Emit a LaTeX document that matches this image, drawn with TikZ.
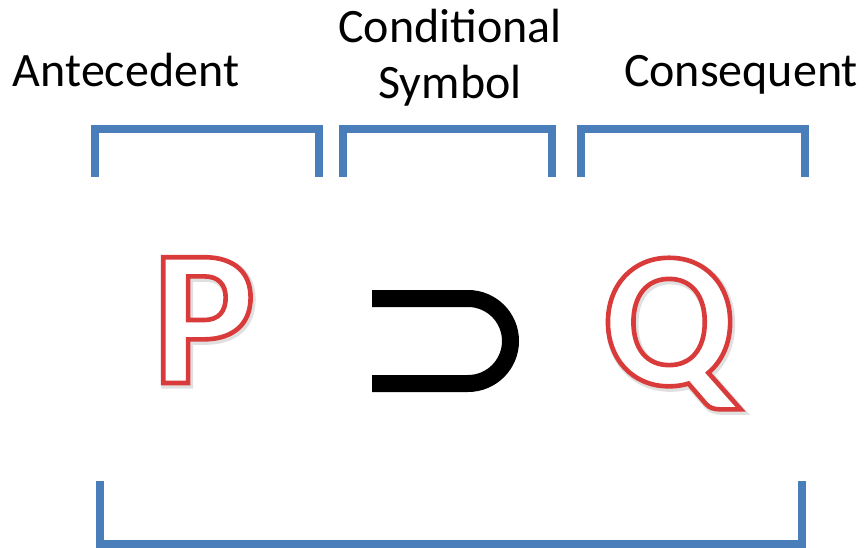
\documentclass[tikz,border=0pt]{standalone}
\usepackage{fontspec}
\setmainfont{Carlito}
\definecolor{bblue}{RGB}{74,126,187}
\definecolor{pred}{RGB}{214,56,56}
\newcommand{\outlined}[1]{\special{pdf:code 2 Tr 4.6 w 1 1 1 rg 0.85 0.23 0.23 RG}#1\special{pdf:code 0 Tr 1 w}}
\newcommand{\shadowed}[1]{\special{pdf:code 2 Tr 7 w 0.88 0.88 0.88 rg 0.88 0.88 0.88 RG}#1\special{pdf:code 0 Tr 1 w}}
\tikzset{
  bracket/.style={draw=bblue, line width=8pt, line cap=butt, line join=miter},
  lbl/.style={anchor=base, inner sep=0pt, font=\fontsize{48}{58}\selectfont, align=center},
  bigletter/.style={anchor=base, inner sep=0pt, text=white, font=\bfseries\fontsize{194}{200}\selectfont},
}
\begin{document}
\begin{tikzpicture}[x=1pt,y=-1pt]
\useasboundingbox (0,0) rectangle (865,548);
% labels
\node[lbl] (ante) at (126,87) {Antecedent};
\node[lbl] (cond1) at (450,43) {Conditional};
\node[lbl] (cond2) at (450,99) {Symbol};
\node[lbl] (cons) at (741,87) {Consequent};
% brackets
\draw[bracket] (95,177) -- (95,129) -- (319,129) -- (319,177);
\draw[bracket] (343,177) -- (343,129) -- (552,129) -- (552,177);
\draw[bracket] (581,177) -- (581,129) -- (805,129) -- (805,177);
\draw[bracket] (99.5,481) -- (99.5,544) -- (802,544) -- (802,481);
% P and Q, outlined with a soft shadow
\node[bigletter] (Ps) at (205.5,385) {\shadowed{P}};
\node[bigletter] (Qs) at (670.5,387) {\shadowed{Q}};
\node[bigletter] (P) at (204,383) {\outlined{P}};
\node[bigletter] (Q) at (669,385) {\outlined{Q}};
% implication symbol
\coordinate (s1) at (372,298.5);
\coordinate (s2) at (372,383.5);
\draw[line width=17pt, line cap=butt] (s1) -- (468,298.5) arc[start angle=-90, end angle=90, radius=42.5] -- (s2);
\end{tikzpicture}
\end{document}
